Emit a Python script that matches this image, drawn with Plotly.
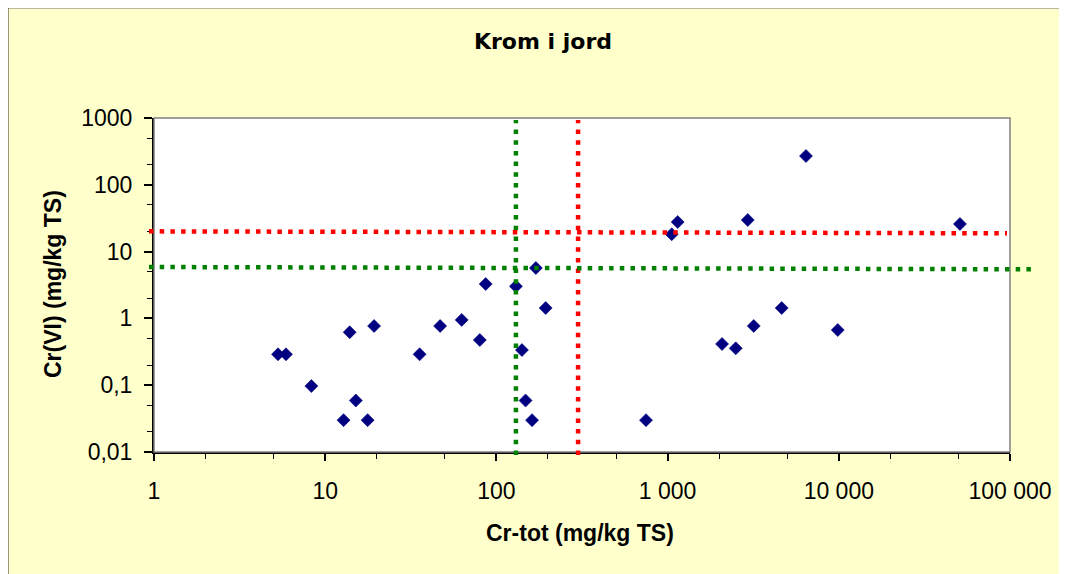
import plotly.graph_objects as go

# ---- data ----
cr_tot = [5.3, 5.9, 8.3, 13.9, 19.3, 15.1, 12.8, 17.7, 35.6, 46.9, 62.7, 80, 86.6,
          130, 141, 148, 161.5, 170, 194, 748, 1057, 1145, 2080, 2500, 2940, 3185,
          4640, 6430, 9860, 51000]
cr_vi = [0.29, 0.29, 0.097, 0.62, 0.77, 0.059, 0.03, 0.03, 0.29, 0.77, 0.95, 0.475,
         3.27, 3.02, 0.336, 0.059, 0.03, 5.68, 1.43, 0.03, 18.2, 27.7, 0.414, 0.356,
         29.7, 0.77, 1.43, 270, 0.67, 25.9]

x_tickvals = [1, 10, 100, 1000, 10000, 100000]
x_ticktext = ["1", "10", "100", "1 000", "10 000", "100 000"]
y_tickvals = [0.01, 0.1, 1, 10, 100, 1000]
y_ticktext = ["0,01", "0,1", "1", "10", "100", "1000"]

red_v_x = 300          # Cr-tot limit (red)
green_v_x = 130        # Cr-tot limit (green)
red_h_y = [20.1, 18.8]     # Cr(VI) limit (red), start/end as drawn
green_h_y = [5.88, 5.43]   # Cr(VI) limit (green), start/end as drawn

title_text = "Krom i jord"
x_title = "Cr-tot (mg/kg TS)"
y_title = "Cr(VI) (mg/kg TS)"

# ---- layout geometry (figure pixels; page adds an 8px body margin) ----
W, H = 1067, 574
OFF = 8
ML, MR, MT, MB = 146, 65, 110, 130
PW, PH = W - ML - MR, H - MT - MB


def px_x(p):
    return (p - OFF - ML) / PW


def px_y(p):
    return (H - MB - (p - OFF)) / PH


fig = go.Figure()
fig.add_trace(go.Scatter(
    x=cr_tot, y=cr_vi, mode="markers",
    marker=dict(symbol="diamond", size=10, color="#000080",
                line=dict(color="#000080", width=0.6)),
    showlegend=False, cliponaxis=False,
))

dash = "4.5px,6.2px"
shapes = []
# chart frame (left / top border of the chart area)
shapes.append(dict(type="line", xref="paper", yref="paper",
                   x0=px_x(OFF - 1), x1=px_x(W + OFF), y0=px_y(OFF - 0.5), y1=px_y(OFF - 0.5),
                   line=dict(color="#707070", width=2)))
shapes.append(dict(type="line", xref="paper", yref="paper",
                   x0=px_x(OFF - 0.5), x1=px_x(OFF - 0.5), y0=px_y(OFF - 1), y1=px_y(H + OFF),
                   line=dict(color="#303030", width=2)))
# plot area frame (top/right grey)
shapes.append(dict(type="rect", xref="x domain", yref="y domain",
                   x0=0, x1=1, y0=0, y1=1, line=dict(color="#808080", width=1.5)))
# threshold lines
shapes.append(dict(type="line", xref="x", yref="paper",
                   x0=green_v_x, x1=green_v_x, y0=px_y(455), y1=px_y(120),
                   line=dict(color="#008000", width=4.5, dash=dash)))
shapes.append(dict(type="line", xref="x", yref="paper",
                   x0=red_v_x, x1=red_v_x, y0=px_y(455), y1=px_y(120),
                   line=dict(color="#FF0000", width=4.5, dash=dash)))
shapes.append(dict(type="line", xref="paper", yref="y",
                   x0=px_x(149), x1=px_x(1007), y0=red_h_y[0], y1=red_h_y[1],
                   line=dict(color="#FF0000", width=4.5, dash=dash)))
shapes.append(dict(type="line", xref="paper", yref="y",
                   x0=px_x(149), x1=px_x(1031), y0=green_h_y[0], y1=green_h_y[1],
                   line=dict(color="#008000", width=4.5, dash=dash)))

tickfont = dict(family="Arial, Liberation Sans, sans-serif", size=23, color="black")
titlefont = dict(family="Arial, Liberation Sans, sans-serif", size=23, color="black")

annotations = [
    dict(text="<b>%s</b>" % x_title, xref="paper", yref="paper",
         x=px_x(580), y=px_y(533), xanchor="center", yanchor="middle",
         showarrow=False, font=titlefont),
    dict(text="<b>%s</b>" % y_title, xref="paper", yref="paper",
         x=px_x(53), y=px_y(284), xanchor="center", yanchor="middle",
         textangle=-90, showarrow=False, font=titlefont),
]

fig.update_layout(
    width=W, height=H,
    margin=dict(l=ML, r=MR, t=MT, b=MB, autoexpand=False),
    paper_bgcolor="#FFFFCC", plot_bgcolor="white",
    title=dict(text="<b>%s</b>" % title_text, x=(543 - OFF) / W, xref="container", xanchor="center",
               y=1 - (41 - OFF) / H, yref="container", yanchor="middle",
               font=dict(family="DejaVu Sans, Verdana, sans-serif", size=22, color="black")),
    shapes=shapes,
    annotations=annotations,
    xaxis=dict(type="log", range=[0, 5], tickvals=x_tickvals, ticktext=x_ticktext,
               ticks="outside", ticklen=7, tickwidth=1.5, tickcolor="black",
               minor=dict(ticks="outside", ticklen=5, tickwidth=1, tickcolor="black", showgrid=False),
               showgrid=False, zeroline=False, showline=True, linecolor="black", linewidth=2,
               tickfont=tickfont, ticklabelstandoff=10),
    yaxis=dict(type="log", range=[-2, 3], tickvals=y_tickvals, ticktext=y_ticktext,
               ticks="outside", ticklen=8, tickwidth=1.5, tickcolor="black",
               minor=dict(ticks="outside", ticklen=5, tickwidth=1, tickcolor="black", showgrid=False),
               showgrid=False, zeroline=False, showline=True, linecolor="black", linewidth=2,
               tickfont=tickfont, ticklabelstandoff=7),
)

fig.write_html("out.html")
